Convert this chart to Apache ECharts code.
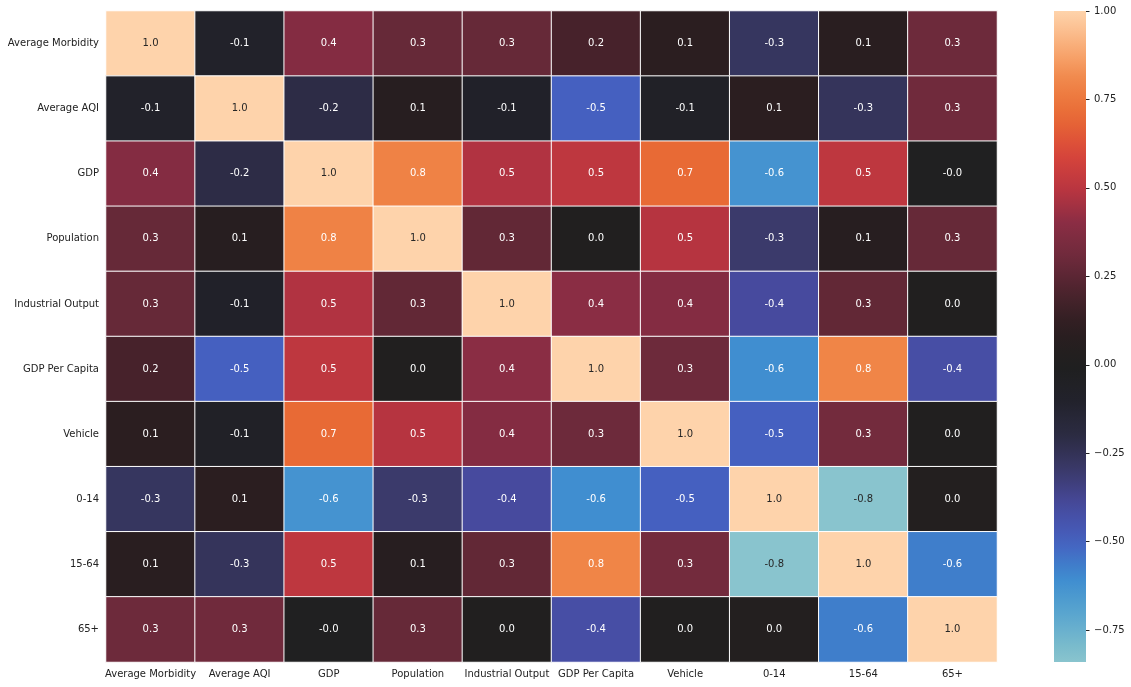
<!DOCTYPE html>
<html>
<head>
<meta charset="utf-8">
<script src="https://cdn.jsdelivr.net/npm/echarts@6/dist/echarts.min.js"></script>
<style>
  html, body { margin: 0; padding: 0; background: #fff; }
  #main { width: 1131px; height: 687px; }
</style>
</head>
<body>
<div id="main"></div>
<script>
var labels = ['Average Morbidity', 'Average AQI', 'GDP', 'Population', 'Industrial Output',
  'GDP Per Capita', 'Vehicle', '0-14', '15-64', '65+'];

// correlation matrix, rows top to bottom
var corr = [
  [1.00, -0.09, 0.38, 0.28, 0.28, 0.19, 0.10, -0.27, 0.08, 0.30],
  [-0.09, 1.00, -0.21, 0.07, -0.08, -0.50, -0.07, 0.10, -0.26, 0.31],
  [0.38, -0.21, 1.00, 0.79, 0.48, 0.51, 0.70, -0.63, 0.51, -0.02],
  [0.28, 0.07, 0.79, 1.00, 0.27, 0.02, 0.49, -0.30, 0.07, 0.28],
  [0.28, -0.08, 0.48, 0.27, 1.00, 0.40, 0.38, -0.40, 0.27, 0.02],
  [0.19, -0.50, 0.51, 0.02, 0.40, 1.00, 0.30, -0.61, 0.80, -0.42],
  [0.10, -0.07, 0.70, 0.49, 0.38, 0.30, 1.00, -0.50, 0.32, 0.02],
  [-0.27, 0.10, -0.63, -0.30, -0.40, -0.61, -0.50, 1.00, -0.84, 0.03],
  [0.08, -0.26, 0.51, 0.07, 0.27, 0.80, 0.32, -0.84, 1.00, -0.57],
  [0.30, 0.31, -0.02, 0.28, 0.02, -0.42, 0.02, 0.03, -0.57, 1.00]
];

var cbarMin = -0.84, cbarMax = 1.0;
var cbarTicks = [-0.75, -0.5, -0.25, 0, 0.25, 0.5, 0.75, 1.0];

// icefire-like colours, evenly spaced from -1 to 1
var icefire = ['#b3e0d8', '#9ed0d2', '#7bbccc', '#58a5cf', '#3d8bd0', '#4560c0', '#474a9e',
  '#3b3a6b', '#2b2b42', '#22222b', '#1f1f1f', '#2b1e20', '#4a232c', '#6d2a3b', '#8a2d44',
  '#bb3540', '#d9463a', '#e86a35', '#f08547', '#f9ad78', '#fed3ab'];

function hexToRgb(h) {
  return [parseInt(h.substr(1, 2), 16), parseInt(h.substr(3, 2), 16), parseInt(h.substr(5, 2), 16)];
}
function colorAt(v) {
  var t = (v + 1) / 2 * (icefire.length - 1);
  var i = Math.min(Math.floor(t), icefire.length - 2);
  var f = t - i;
  var a = hexToRgb(icefire[i]), b = hexToRgb(icefire[i + 1]);
  return 'rgb(' + [0, 1, 2].map(function (k) { return Math.round(a[k] + (b[k] - a[k]) * f); }).join(',') + ')';
}

var data = [];
corr.forEach(function (row, r) {
  row.forEach(function (v, c) {
    var light = v > 0.85 || v < -0.75;
    data.push({ value: [c, r, v], label: { color: light ? '#262626' : '#fff' } });
  });
});

var stops = [];
for (var s = 0; s <= 40; s++) {
  var v = cbarMax - (cbarMax - cbarMin) * s / 40;
  stops.push({ offset: s / 40, color: colorAt(v) });
}

var chart = echarts.init(document.getElementById('main'));
var font = 'DejaVu Sans';

chart.setOption({
  backgroundColor: '#fff',
  animation: false,
  textStyle: { fontFamily: font },
  grid: [
    { left: 106, top: 11, width: 891, height: 651, outerBoundsMode: 'none' },
    { left: 1054, top: 11, width: 32, height: 651, outerBoundsMode: 'none' }
  ],
  xAxis: [
    {
      type: 'category', data: labels, gridIndex: 0,
      axisLine: { show: false },
      axisTick: { length: 3.5, lineStyle: { color: '#222' }, alignWithLabel: true },
      axisLabel: { color: '#222', fontSize: 10, fontFamily: font, margin: 7, interval: 0 },
      splitLine: { show: false }
    },
    { type: 'value', gridIndex: 1, show: false, min: 0, max: 1 }
  ],
  yAxis: [
    {
      type: 'category', data: labels, gridIndex: 0, inverse: true,
      axisLine: { show: false },
      axisTick: { length: 3.5, lineStyle: { color: '#222' }, alignWithLabel: true },
      axisLabel: { color: '#222', fontSize: 10, fontFamily: font, margin: 7, interval: 0 },
      splitLine: { show: false }
    },
    {
      type: 'value', gridIndex: 1, position: 'right', offset: 0, min: cbarMin, max: cbarMax,
      axisLine: { show: false, onZero: false },
      splitLine: { show: false },
      axisTick: { show: true, inside: false, length: 3.5, lineStyle: { color: '#222' }, customValues: cbarTicks },
      axisLabel: {
        color: '#222', fontSize: 10, fontFamily: font, margin: 8, inside: false, customValues: cbarTicks,
        formatter: function (v) { return v.toFixed(2).replace('-', '\u2212'); }
      }
    }
  ],
  visualMap: {
    show: false, type: 'continuous', min: -1, max: 1, dimension: 2, seriesIndex: 0,
    inRange: { color: icefire }
  },
  graphic: [{
    type: 'rect', z: -1,
    shape: { x: 1054, y: 11, width: 32, height: 651 },
    style: { fill: new echarts.graphic.LinearGradient(0, 0, 0, 1, stops) }
  }],
  series: [
    {
      type: 'heatmap', xAxisIndex: 0, yAxisIndex: 0, data: data,
      itemStyle: { borderColor: '#fff', borderWidth: 1 },
      label: {
        show: true, fontSize: 10, fontFamily: font,
        formatter: function (p) { return p.value[2].toFixed(1); }
      },
      emphasis: { disabled: true }
    },
    { type: 'scatter', xAxisIndex: 1, yAxisIndex: 1, data: [], silent: true }
  ]
});
</script>
</body>
</html>
